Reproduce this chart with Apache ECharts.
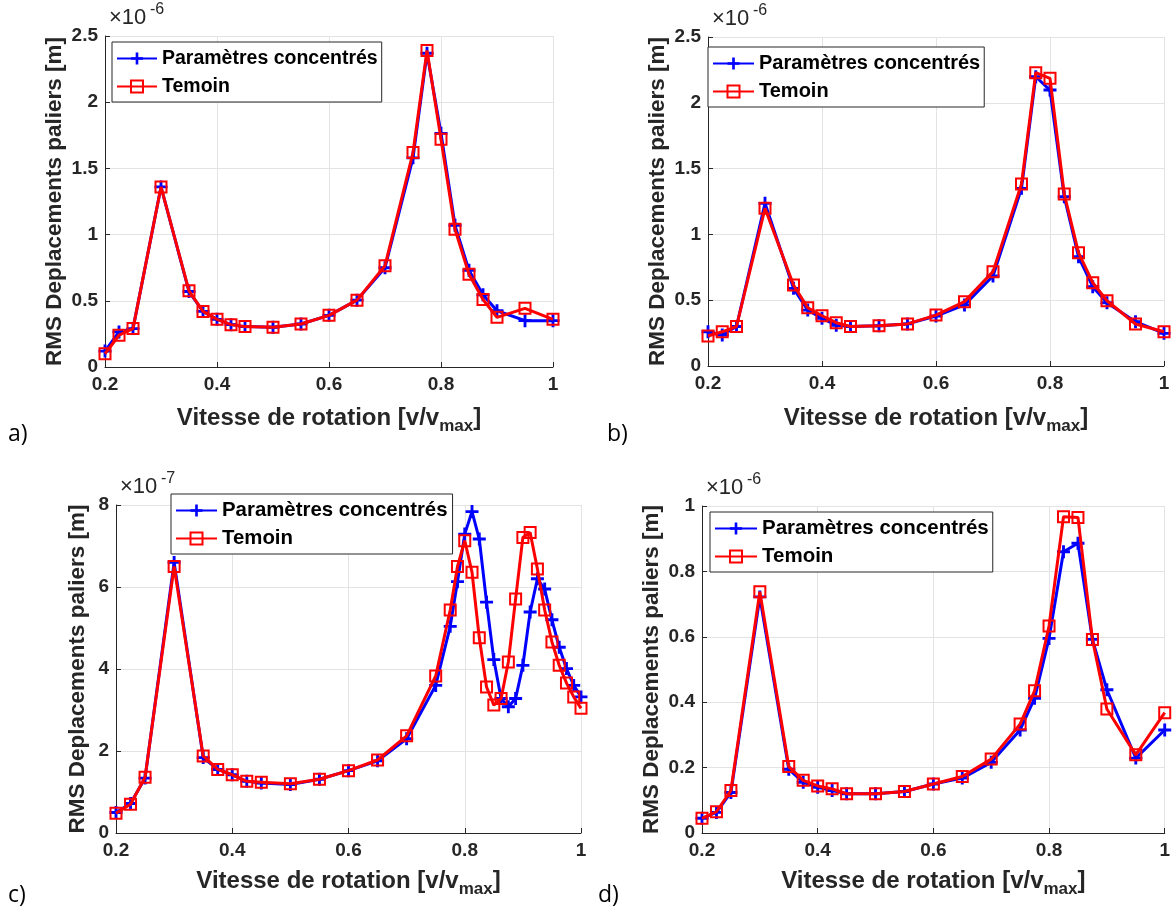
<!DOCTYPE html>
<html><head><meta charset="utf-8">
<script src="https://cdn.jsdelivr.net/npm/echarts@6/dist/echarts.min.js"></script>
<style>html,body{margin:0;padding:0;background:#fff}#c{width:1173px;height:919px}</style>
</head><body><div id="c"></div>
<script>
// ---- data (values in units of the axis exponent) ----
const SERIES_NAMES = ['Paramètres concentrés', 'Temoin'];
const X_STD = [0.2, 0.225, 0.25, 0.3, 0.35, 0.375, 0.4, 0.425, 0.45, 0.5, 0.55, 0.6, 0.65, 0.7, 0.75, 0.775, 0.8, 0.825, 0.85, 0.875, 0.9, 0.95, 1.0];
const X_C = [0.2, 0.225, 0.25, 0.3, 0.35, 0.375, 0.4, 0.425, 0.45, 0.5, 0.55, 0.6, 0.65, 0.7, 0.75, 0.775, 0.7875, 0.8, 0.8125, 0.825, 0.8375, 0.85, 0.8625, 0.875, 0.8875, 0.9, 0.9125, 0.925, 0.9375, 0.95, 0.9625, 0.975, 0.9875, 1.0];

// a) x1e-6
const A_PC  = [0.12, 0.265, 0.29, 1.36, 0.57, 0.42, 0.36, 0.32, 0.305, 0.30, 0.325, 0.39, 0.505, 0.75, 1.58, 2.37, 1.765, 1.07, 0.73, 0.545, 0.425, 0.35, 0.35];
const A_TEM = [0.10, 0.24, 0.29, 1.36, 0.575, 0.42, 0.36, 0.32, 0.305, 0.30, 0.325, 0.39, 0.505, 0.765, 1.62, 2.39, 1.72, 1.04, 0.70, 0.51, 0.375, 0.443, 0.36];
// b) x1e-6
const B_PC  = [0.26, 0.235, 0.30, 1.236, 0.59, 0.425, 0.362, 0.31, 0.30, 0.305, 0.32, 0.38, 0.464, 0.684, 1.35, 2.198, 2.097, 1.286, 0.83, 0.603, 0.481, 0.337, 0.248];
const B_TEM = [0.228, 0.26, 0.30, 1.198, 0.615, 0.443, 0.382, 0.329, 0.30, 0.305, 0.32, 0.387, 0.489, 0.717, 1.383, 2.229, 2.186, 1.307, 0.861, 0.633, 0.496, 0.319, 0.26];
// c) x1e-7
const C_PC  = [0.5, 0.72, 1.34, 6.6, 1.84, 1.55, 1.42, 1.26, 1.22, 1.18, 1.31, 1.52, 1.76, 2.30, 3.60, 5.04, 6.13, 7.29, 7.84, 7.17, 5.63, 4.23, 3.28, 3.08, 3.28, 4.09, 5.39, 6.20, 5.95, 5.20, 4.53, 4.01, 3.60, 3.32];
const C_TEM = [0.48, 0.70, 1.36, 6.5, 1.88, 1.55, 1.42, 1.26, 1.24, 1.20, 1.31, 1.52, 1.78, 2.37, 3.83, 5.44, 6.50, 7.13, 6.36, 4.76, 3.56, 3.12, 3.28, 4.17, 5.71, 7.21, 7.33, 6.44, 5.44, 4.66, 4.09, 3.66, 3.32, 3.04];
// d) x1e-6
const D_PC  = [0.045, 0.063, 0.124, 0.722, 0.195, 0.155, 0.14, 0.13, 0.12, 0.12, 0.127, 0.15, 0.168, 0.216, 0.315, 0.412, 0.595, 0.86, 0.886, 0.592, 0.438, 0.229, 0.315];
const D_TEM = [0.045, 0.065, 0.13, 0.738, 0.203, 0.161, 0.144, 0.135, 0.12, 0.12, 0.127, 0.15, 0.173, 0.226, 0.333, 0.435, 0.633, 0.967, 0.965, 0.592, 0.379, 0.239, 0.368];

const Y_MAX = [2.5, 2.5, 8, 1];
const Y_STEP = [0.5, 0.5, 2, 0.2];
const Y_EXP = ['-6', '-6', '-7', '-6'];
const PANEL_TAGS = ['a)', 'b)', 'c)', 'd)'];
const X_TITLE = 'Vitesse de rotation [v/v{s|max}]';
const Y_TITLE = 'RMS Deplacements paliers [m]';

// ---- layout ----
const FONT = 'Liberation Sans, Arial, sans-serif';
const INK = '#262626';
const PLUS = 'path://M3.9,0H6.1V3.9H10V6.1H6.1V10H3.9V6.1H0V3.9H3.9Z';
const panels = [
  {x: X_STD, pc: A_PC, tem: A_TEM, grid: {left: 105, top: 36, width: 448, height: 331}, yGap: 31, xGap: 34,
   legend: {left: 112, top: 42, fs: 19.5, iw: 40, pad: [4, 4, 3, 4]}, tag: [8, 437]},
  {x: X_STD, pc: B_PC, tem: B_TEM, grid: {left: 708, top: 37, width: 456, height: 329}, yGap: 37, xGap: 35,
   legend: {left: 708, top: 47, fs: 20, iw: 41, pad: [4, 4, 3, 4]}, tag: [607, 437]},
  {x: X_C, pc: C_PC, tem: C_TEM, grid: {left: 116, top: 505, width: 465, height: 328}, yGap: 25, xGap: 31,
   legend: {left: 171, top: 494, fs: 20.4, iw: 41, pad: [4, 5, 3, 4]}, tag: [8, 898]},
  {x: X_STD, pc: D_PC, tem: D_TEM, grid: {left: 702, top: 506, width: 463, height: 327}, yGap: 37, xGap: 31,
   legend: {left: 710, top: 512, fs: 20.5, iw: 42, pad: [4, 4, 3, 4]}, tag: [598, 898]}
];

const grids = [], xAxes = [], yAxes = [], series = [], legends = [], graphics = [];
panels.forEach((p, i) => {
  grids.push(Object.assign({containLabel: false}, p.grid));
  xAxes.push({
    type: 'value', gridIndex: i, min: 0.2, max: 1, interval: 0.2,
    axisLine: {lineStyle: {color: INK, width: 1}},
    axisTick: {inside: true, length: 5, lineStyle: {color: INK}},
    axisLabel: {color: INK, fontSize: 19, fontWeight: 'bold', fontFamily: FONT, margin: 8,
      formatter: v => String(Math.round(v * 10) / 10)},
    splitLine: {show: true, lineStyle: {color: '#e3e3e3', width: 1}},
    name: X_TITLE, nameLocation: 'middle', nameGap: p.xGap,
    nameTextStyle: {color: INK, fontSize: 24, fontWeight: 'bold', fontFamily: FONT, lineHeight: 34,
      rich: {s: {color: INK, fontSize: 17, fontWeight: 'bold', fontFamily: FONT, lineHeight: 16, verticalAlign: 'bottom'}}}
  });
  yAxes.push({
    type: 'value', gridIndex: i, min: 0, max: Y_MAX[i], interval: Y_STEP[i],
    axisLine: {show: true, lineStyle: {color: INK, width: 1}},
    axisTick: {show: true, inside: true, length: 5, lineStyle: {color: INK}},
    axisLabel: {color: INK, fontSize: 19, fontWeight: 'bold', fontFamily: FONT, margin: 7,
      formatter: v => String(Math.round(v * 10) / 10)},
    splitLine: {show: true, lineStyle: {color: '#e3e3e3', width: 1}},
    name: Y_TITLE, nameLocation: 'middle', nameGap: p.yGap, nameRotate: 90,
    nameTextStyle: {color: INK, fontSize: 22.5, fontWeight: 'bold', fontFamily: FONT, lineHeight: 26}
  });
  series.push({
    type: 'line', name: SERIES_NAMES[0], xAxisIndex: i, yAxisIndex: i,
    data: p.x.map((x, k) => [x, p.pc[k]]),
    symbol: PLUS, symbolSize: 13, showAllSymbol: true, clip: false,
    lineStyle: {color: '#0000ff', width: 3}, itemStyle: {color: '#0000ff'},
    emphasis: {disabled: true}, animation: false, z: 2
  });
  series.push({
    type: 'line', name: SERIES_NAMES[1], xAxisIndex: i, yAxisIndex: i,
    data: p.x.map((x, k) => [x, p.tem[k]]),
    symbol: 'rect', symbolSize: 11, showAllSymbol: true, clip: false,
    lineStyle: {color: '#ff0000', width: 3},
    itemStyle: {color: 'rgba(255,255,255,0)', borderColor: '#ff0000', borderWidth: 2},
    emphasis: {disabled: true}, animation: false, z: 3
  });
  const L = p.legend;
  legends.push({
    orient: 'vertical', left: L.left, top: L.top, data: SERIES_NAMES,
    borderColor: INK, borderWidth: 1, backgroundColor: '#fff', padding: L.pad,
    itemGap: 3, itemWidth: L.iw, itemHeight: 15, selectedMode: false,
    textStyle: {color: '#000', fontSize: L.fs, fontWeight: 'bold', fontFamily: FONT, lineHeight: 25}
  });
  graphics.push({
    type: 'text', left: p.grid.left + 4, top: p.grid.top - 29,
    style: {text: '×10', fill: INK, font: '22px ' + FONT}
  });
  graphics.push({
    type: 'text', left: p.grid.left + 45, top: p.grid.top - 34,
    style: {text: Y_EXP[i], fill: INK, font: '16px ' + FONT}
  });
  graphics.push({
    type: 'text', left: p.tag[0], top: p.tag[1] - 14,
    style: {text: PANEL_TAGS[i], fill: '#000', font: '23px Open Sans, Noto Sans, sans-serif'}
  });
});

const chart = echarts.init(document.getElementById('c'), null, {renderer: 'canvas'});
chart.setOption({
  animation: false,
  backgroundColor: '#fff',
  grid: grids, xAxis: xAxes, yAxis: yAxes, series: series, legend: legends, graphic: graphics
});
</script></body></html>
